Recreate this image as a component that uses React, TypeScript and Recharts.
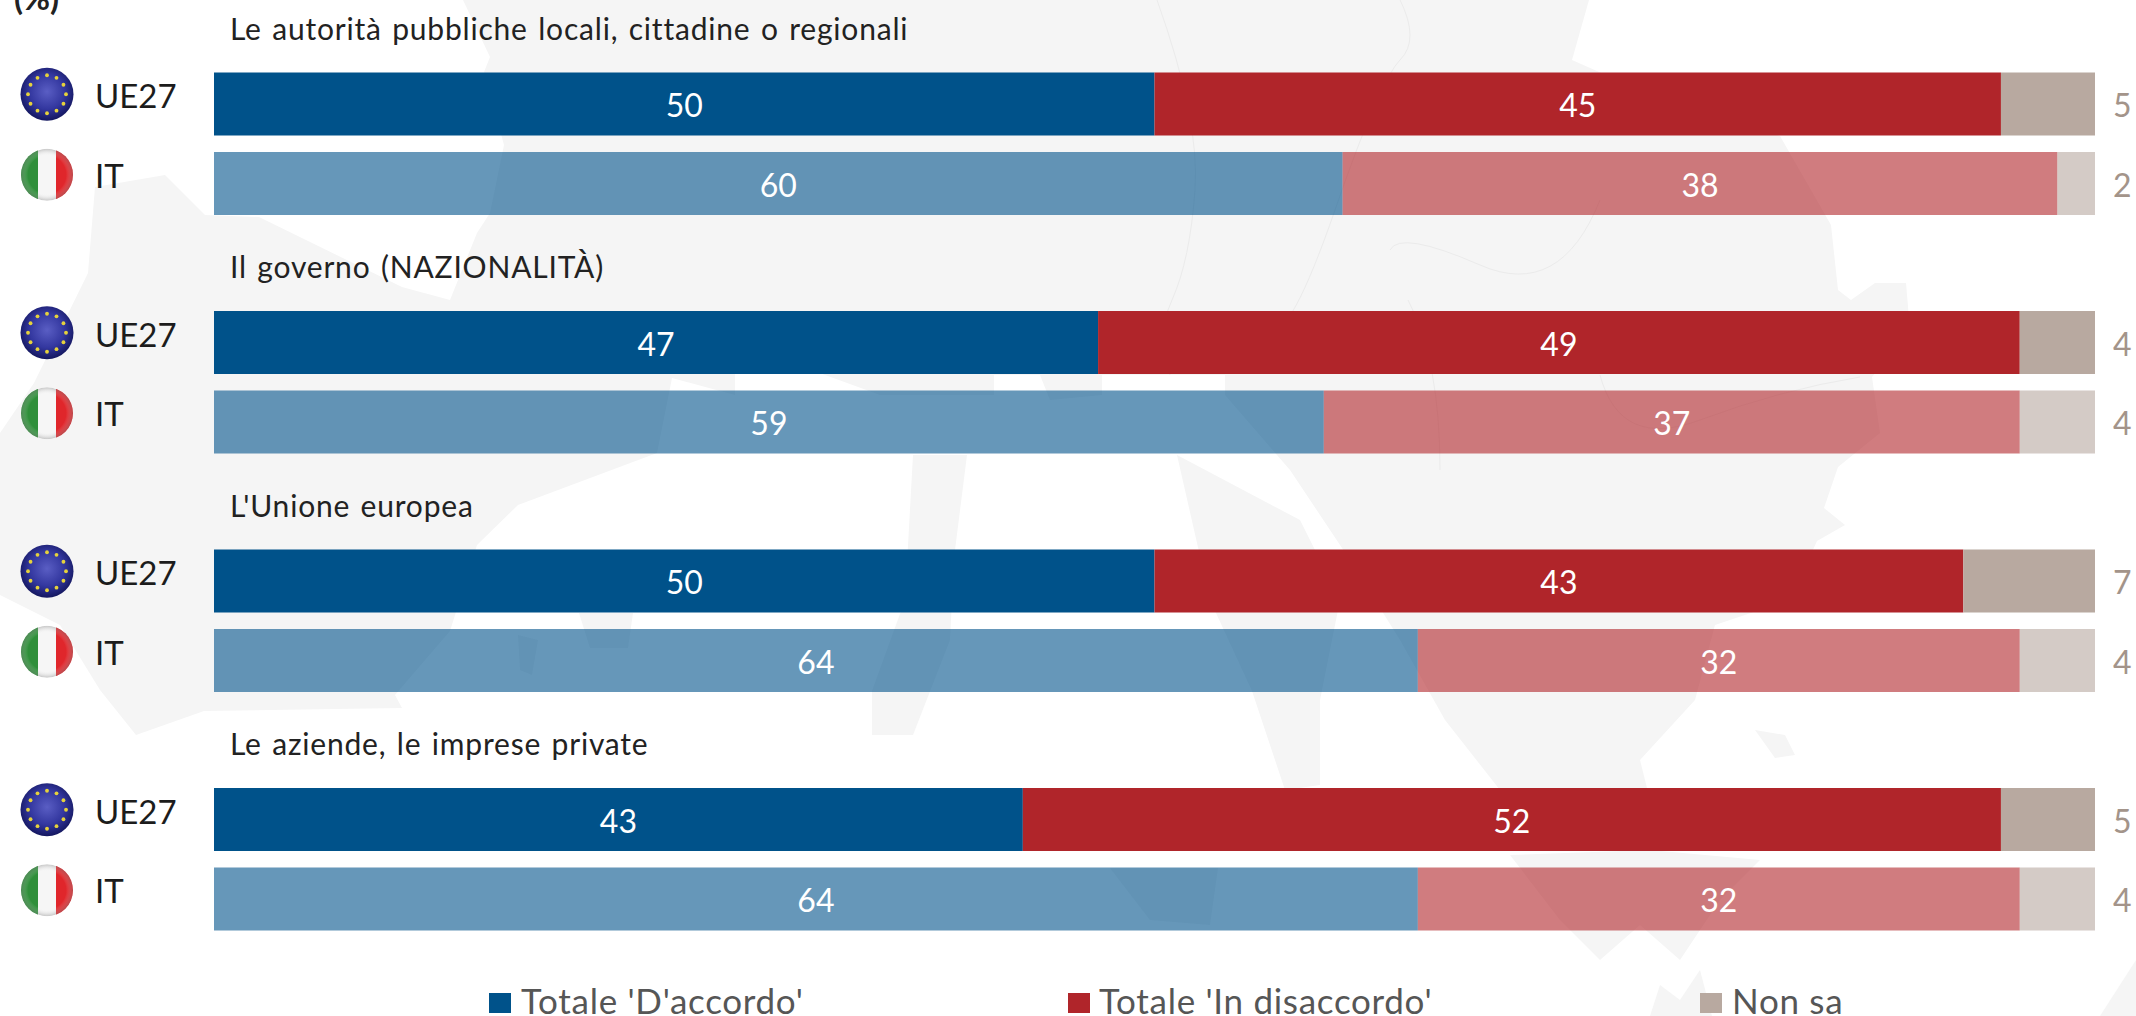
import React from "react";
import { BarChart, Bar, XAxis, YAxis, Cell, LabelList, Legend } from "recharts";

// Survey results, in percent, one pair of rows per institution.
const institutions = [
  "Le autorità pubbliche locali, cittadine o regionali",
  "Il governo (NAZIONALITÀ)",
  "L'Unione europea",
  "Le aziende, le imprese private",
];
const agreeEU = [50, 47, 50, 43];
const agreeIT = [60, 59, 64, 64];
const disagreeEU = [45, 49, 43, 52];
const disagreeIT = [38, 37, 32, 32];
const unsureEU = [5, 4, 7, 5];
const unsureIT = [2, 4, 4, 4];

const SERIES_NAMES = ["Totale 'D'accordo'", "Totale 'In disaccordo'", "Non sa"];
const BLUE = "#00528a";
const RED = "#b0252a";
const TAUPE = "#b8a9a0";
const FONT = "Lato, sans-serif";
const PAGE_SHIFT = 16;

type Row = {
  key: string;
  kind: "title" | "EU" | "IT";
  label: string;
  agree: number | null;
  disagree: number | null;
  unsure: number | null;
};

const rows: Row[] = institutions.flatMap((title, i) => [
  { key: `t${i}`, kind: "title" as const, label: title, agree: null, disagree: null, unsure: null },
  { key: `eu${i}`, kind: "EU" as const, label: "UE27", agree: agreeEU[i], disagree: disagreeEU[i], unsure: unsureEU[i] },
  { key: `it${i}`, kind: "IT" as const, label: "IT", agree: agreeIT[i], disagree: disagreeIT[i], unsure: unsureIT[i] },
]);

// Pale map of Europe that sits behind the bars.
const landShapes = [
  "M463,0 L1589,0 1572,60 1640,90 1780,136 1831,225 1838,290 1851,300 1875,283 1906,283 1910,330 1872,377 1880,433 1838,467 1824,508 1845,525 1817,541 1790,600 1715,625 1695,700 1640,760 1650,800 1620,850 1500,790 1445,720 1400,640 1350,560 1290,470 1225,395 1225,375 1102,375 1102,395 1050,400 1040,375 994,375 994,395 880,395 817,372 735,372 735,395 672,378 657,453 518,505 477,545 450,631 395,695 402,708 204,711 136,735 100,690 60,625 0,595 0,433 34,383 88,273 95,187 165,175 205,215 259,217 402,287 450,300 477,233 490,213 504,145 484,72 490,57 Z",
  "M1177,455 L1300,520 1340,600 1320,700 1320,785 1285,790 1252,691 1210,600 Z",
  "M1510,855 L1650,850 1760,860 1720,900 1680,960 1640,925 1600,960 1560,920 Z",
  "M913,455 L967,455 954,558 950,640 913,735 872,735 872,691 905,600 Z",
  "M579,613 L633,613 628,648 590,648 Z",
  "M518,635 L538,640 532,675 520,670 Z",
  "M1110,868 L1218,868 1210,925 1150,920 Z",
  "M1755,730 L1785,735 1795,755 1775,758 Z",
  "M1650,1016 L1660,985 1680,1000 1700,970 1712,1016 Z",
  "M2100,1016 L2136,960 2136,1016 Z",
];
const borderLines = [
  "M1157,0 Q1200,120 1195,190 T1172,300 1170,375",
  "M1400,0 Q1420,40 1400,60 T1335,210 1270,330",
  "M1600,200 Q1560,300 1480,265 T1390,250",
  "M1408,300 Q1440,360 1440,470",
  "M1600,375 Q1620,450 1700,420 T1860,377",
];

const starAngles = [0, 30, 60, 90, 120, 150, 180, 210, 240, 270, 300, 330];

function EuFlag({ cx, cy }: { cx: number; cy: number }) {
  return (
    <g>
      <circle cx={cx} cy={cy} r={26.5} fill="url(#euGlobe)" />
      {starAngles.map((a) => (
        <circle
          key={a}
          cx={cx + 19 * Math.cos((a * Math.PI) / 180)}
          cy={cy + 19 * Math.sin((a * Math.PI) / 180)}
          r={1.9}
          fill="#e6d23c"
        />
      ))}
    </g>
  );
}

function ItFlag({ cx, cy }: { cx: number; cy: number }) {
  return (
    <g>
      <clipPath id={`itClip${cy}`}>
        <circle cx={cx} cy={cy} r={26} />
      </clipPath>
      <g clipPath={`url(#itClip${cy})`}>
        <rect x={cx - 27} y={cy - 27} width={18} height={54} fill="#2f8f3a" />
        <rect x={cx - 9} y={cy - 27} width={18} height={54} fill="#f6f6f6" />
        <rect x={cx + 9} y={cy - 27} width={18} height={54} fill="#e0262b" />
        <circle cx={cx} cy={cy} r={26} fill="url(#itGloss)" />
      </g>
    </g>
  );
}

function RowTick(props: any) {
  const row = rows.find((r) => r.key === props.payload.value);
  const y: number = props.y;
  if (!row) return null;
  if (row.kind === "title") {
    return (
      <text x={230} y={y + 15} fontFamily={FONT} fontSize={30} letterSpacing={0.8} wordSpacing={2} fill="#222">
        {row.label}
      </text>
    );
  }
  return (
    <g>
      {row.kind === "EU" ? <EuFlag cx={47} cy={y - 10} /> : <ItFlag cx={47} cy={y - 9} />}
      <text x={95} y={y + 4} fontFamily={FONT} fontSize={33} fill="#1c1c1c">
        {row.label}
      </text>
    </g>
  );
}

const legendSlots = [
  { square: 489, text: 521 },
  { square: 1068, text: 1099 },
  { square: 1700, text: 1732 },
];

function LegendRow({ payload }: any) {
  return (
    <div style={{ position: "relative", width: 2136, height: 0 }}>
      {(payload || []).map((item: any, i: number) => (
        <div key={item.value}>
          <div
            style={{
              position: "absolute",
              left: legendSlots[i].square,
              top: 993 + PAGE_SHIFT,
              width: 22,
              height: 20,
              background: item.color,
            }}
          />
          <div
            style={{
              position: "absolute",
              left: legendSlots[i].text,
              top: 984 + PAGE_SHIFT,
              fontFamily: FONT,
              fontSize: 35,
              letterSpacing: 0.7,
              lineHeight: "32px",
              color: "#565656",
              whiteSpace: "nowrap",
            }}
          >
            {item.value}
          </div>
        </div>
      ))}
    </div>
  );
}

const shade = (kind: Row["kind"]) => (kind === "IT" ? 0.6 : 1);
const valueLabel = { fontFamily: FONT, fontSize: 32 };

export default function App() {
  return (
    <div style={{ position: "absolute", left: 0, top: 0, width: 2136, height: 1016, overflow: "hidden", background: "#fff" }}>
      <svg width={2136} height={1016} style={{ position: "absolute", left: 0, top: 0 }}>
        {landShapes.map((d) => (
          <path key={d} d={d} fill="#f5f5f5" />
        ))}
        {borderLines.map((d) => (
          <path key={d} d={d} fill="none" stroke="#ebebeb" strokeWidth={1} />
        ))}
      </svg>
      <div style={{ position: "absolute", left: 14, top: -18, fontFamily: FONT, fontWeight: 700, fontSize: 33, lineHeight: "30px", color: "#222" }}>
        (%)
      </div>
      <div style={{ position: "absolute", left: 0, top: -PAGE_SHIFT }}>
        <BarChart
          width={2136}
          height={1032}
          data={rows}
          layout="vertical"
          margin={{ top: 1, right: 41, bottom: 77, left: 0 }}
          style={{ background: "transparent" }}
        >
          <defs>
            <radialGradient id="euGlobe" cx="50%" cy="45%" r="55%">
              <stop offset="0%" stopColor="#5a5ec4" />
              <stop offset="60%" stopColor="#33379f" />
              <stop offset="100%" stopColor="#14175f" />
            </radialGradient>
            <radialGradient id="itGloss" cx="50%" cy="50%" r="52%">
              <stop offset="70%" stopColor="#ffffff" stopOpacity={0} />
              <stop offset="100%" stopColor="#666666" stopOpacity={0.45} />
            </radialGradient>
          </defs>
          <XAxis type="number" domain={[0, 100]} hide />
          <YAxis
            type="category"
            dataKey="key"
            width={214}
            interval={0}
            axisLine={false}
            tickLine={false}
            tick={<RowTick />}
          />
          <Legend
            content={<LegendRow />}
            itemSorter={null}
            wrapperStyle={{ position: "absolute", left: 0, top: 0, width: 2136, height: 0 }}
          />
          <Bar dataKey="agree" name={SERIES_NAMES[0]} stackId="a" fill={BLUE} barSize={63} isAnimationActive={false}>
            {rows.map((r) => (
              <Cell key={r.key} fill={BLUE} fillOpacity={shade(r.kind)} />
            ))}
            <LabelList dataKey="agree" position="center" fill="#fff" dy={2} style={valueLabel} />
          </Bar>
          <Bar dataKey="disagree" name={SERIES_NAMES[1]} stackId="a" fill={RED} barSize={63} isAnimationActive={false}>
            {rows.map((r) => (
              <Cell key={r.key} fill={RED} fillOpacity={shade(r.kind)} />
            ))}
            <LabelList dataKey="disagree" position="center" fill="#fff" dy={2} style={valueLabel} />
          </Bar>
          <Bar dataKey="unsure" name={SERIES_NAMES[2]} stackId="a" fill={TAUPE} barSize={63} isAnimationActive={false}>
            {rows.map((r) => (
              <Cell key={r.key} fill={TAUPE} fillOpacity={shade(r.kind)} />
            ))}
            <LabelList dataKey="unsure" position="right" offset={18} fill="#a3948a" dy={2} style={valueLabel} />
          </Bar>
        </BarChart>
      </div>
    </div>
  );
}
